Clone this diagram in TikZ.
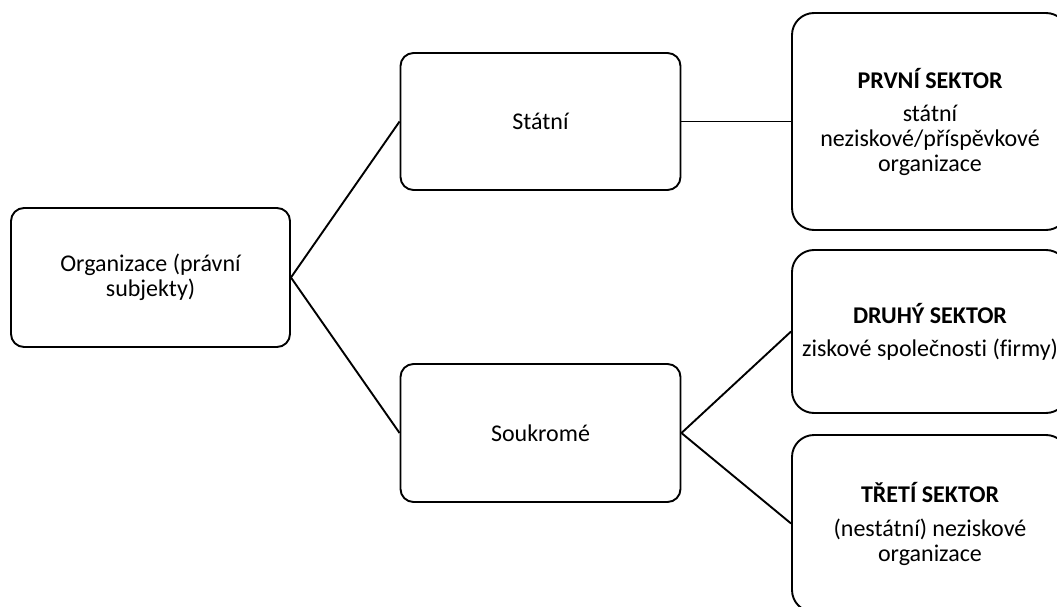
\documentclass[tikz,border=0pt]{standalone}
\usepackage{fontspec}
\setmainfont[Ligatures=NoCommon]{Carlito}
\begin{document}
\begin{tikzpicture}[x=1pt,y=-1pt,
  box/.style={draw, line width=1.9pt, rounded corners=13pt, align=center,
    font=\fontsize{24}{25}\selectfont, inner sep=0pt},
  bigbox/.style={box, rounded corners=22pt},
  conn/.style={line width=1.9pt}]
\useasboundingbox (0,0) rectangle (1057,607);
\clip (0,0) rectangle (1057,607);
\node[box, minimum width=279pt, minimum height=139pt] (org) at (150.5,277.5) {Organizace (právní\\subjekty)};
\node[box, minimum width=280pt, minimum height=137pt] (statni) at (540.5,121.5) {Státní};
\node[box, minimum width=280pt, minimum height=138pt] (soukrome) at (540.5,433) {Soukromé};
\node[bigbox, minimum width=276pt, minimum height=217pt] (prvni) at (930,121.5) {\textbf{PRVNÍ SEKTOR}\\[8pt]státní\\neziskové/příspěvkové\\organizace};
\node[bigbox, minimum width=276pt, minimum height=163pt] (druhy) at (930,331.5) {\textbf{DRUHÝ SEKTOR}\\[8pt]ziskové společnosti (firmy)};
\node[bigbox, minimum width=276pt, minimum height=177pt] (treti) at (930,523.5) {\textbf{TŘETÍ SEKTOR}\\[9pt](nestátní) neziskové\\organizace};
\draw[conn] (org.east) -- (statni.west);
\draw[conn] (org.east) -- (soukrome.west);
\draw[conn] (statni.east) -- (prvni.west);
\draw[conn] (soukrome.east) -- (druhy.west);
\draw[conn] (soukrome.east) -- (treti.west);
\end{tikzpicture}
\end{document}
